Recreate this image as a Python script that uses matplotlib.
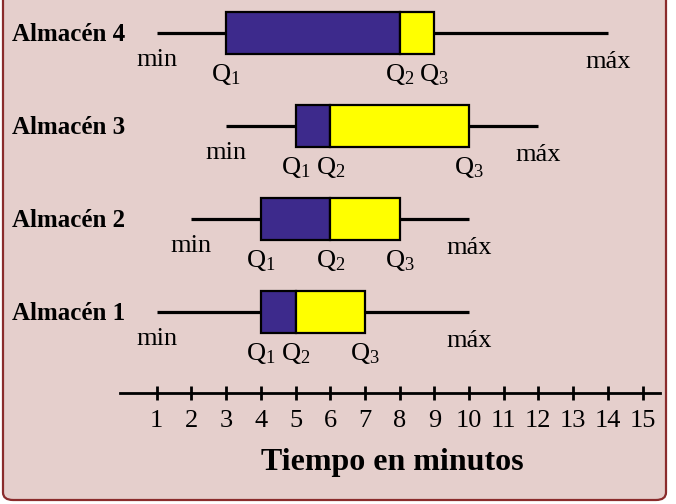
import matplotlib
matplotlib.use('Agg')
import matplotlib.pyplot as plt
from matplotlib.patches import FancyBboxPatch

plt.rcParams['font.family'] = ['Liberation Serif', 'DejaVu Serif']
plt.rcParams['mathtext.fontset'] = 'custom'
plt.rcParams['mathtext.rm'] = 'Liberation Serif'
plt.rcParams['mathtext.it'] = 'Liberation Serif'

# datos (tiempo en minutos)
almacenes = ['Almacén 1', 'Almacén 2', 'Almacén 3', 'Almacén 4']
minimos = [1, 2, 3, 1]
q1 = [4, 4, 5, 3]
q2 = [5, 6, 6, 8]
q3 = [7, 8, 10, 9]
maximos = [10, 10, 12, 14]
ticks = list(range(1, 16))

fondo = '#e5cfcc'
morado = '#3d2a8c'
amarillo = '#ffff00'
borde = '#8a2c2c'

fig = plt.figure(figsize=(6.76, 5.04), dpi=100)
fig.patch.set_facecolor('white')

# fondo de la pagina escaneada
pag = FancyBboxPatch((3 / 676, 4 / 504), 663 / 676, 540 / 504,
                     boxstyle='round,pad=0,rounding_size=0.015',
                     transform=fig.transFigure, facecolor=fondo,
                     edgecolor=borde, linewidth=1.6, zorder=-5)
fig.patches.append(pag)

px = 34.7   # pixeles por minuto
py = 93.0   # pixeles entre almacenes
ax = fig.add_axes([0, 0, 1, 1])
ax.set_facecolor('none')
ax.set_xlim(-122 / px, (676 - 122) / px)
ax.set_ylim(4 - 471 / py, 4 + 33 / py)

h = 42 / py
for i, nombre in enumerate(almacenes):
    y = i + 1
    ax.hlines(y, minimos[i], q1[i], color='black', lw=2.3, zorder=2)
    ax.hlines(y, q3[i], maximos[i], color='black', lw=2.3, zorder=2)
    ax.barh(y, q2[i] - q1[i], left=q1[i], height=h, color=morado,
            edgecolor='black', lw=1.6, zorder=3)
    ax.barh(y, q3[i] - q2[i], left=q2[i], height=h, color=amarillo,
            edgecolor='black', lw=1.6, zorder=3)

    ax.text(-110 / px, y - 8 / py, nombre, fontsize=18, fontweight='bold',
            ha='left', va='baseline')
    ax.text(minimos[i], y - 33 / py, 'min', fontsize=19, ha='center',
            va='baseline')
    ax.text(maximos[i], y - 35 / py, 'máx', fontsize=19, ha='center',
            va='baseline')
    for val, s in zip([q1[i], q2[i], q3[i]], ['1', '2', '3']):
        ax.text(val, y - 48 / py, r'$\mathrm{Q}_{%s}$' % s, fontsize=19,
                ha='center', va='baseline')

# recta numerica
for s in ['top', 'left', 'right']:
    ax.spines[s].set_visible(False)
ax.spines['bottom'].set_position(('data', 4 - 360 / py))
ax.spines['bottom'].set_bounds(-0.06, 15.5)
ax.spines['bottom'].set_linewidth(2.0)
ax.set_yticks([])
ax.set_xticks(ticks)
ax.tick_params(axis='x', direction='inout', length=10, width=2,
               labelsize=19, pad=7)
ax.set_xlabel('Tiempo en minutos', fontsize=23, fontweight='bold')
ax.xaxis.set_label_coords(392 / 676, 1 - 470 / 504)
ax.xaxis.label.set_verticalalignment('baseline')

fig.savefig('out.png', dpi=100, facecolor='white')
